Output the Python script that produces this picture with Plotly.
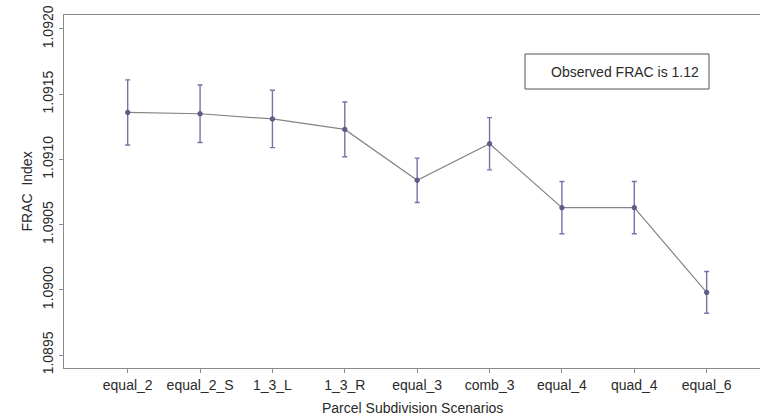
import plotly.graph_objects as go

# Subdivision scenarios and their mean FRAC index with error half-widths
scenarios = ["equal_2", "equal_2_S", "1_3_L", "1_3_R", "equal_3",
             "comb_3", "equal_4", "quad_4", "equal_6"]
frac_mean = [1.09136, 1.09135, 1.09131, 1.09123, 1.09084,
             1.09112, 1.09063, 1.09063, 1.08998]
frac_err = [0.00025, 0.00022, 0.00022, 0.00021, 0.00017,
            0.00020, 0.00020, 0.00020, 0.00016]
y_ticks = [1.0895, 1.0900, 1.0905, 1.0910, 1.0915, 1.0920]
note_text = "Observed FRAC is 1.12"

x_pos = list(range(1, len(scenarios) + 1))

W, H = 760, 418
L, R, T, B = 64, 0, 15, 50
plot_w = W - L - R
plot_h = H - T - B

FONT = "Liberation Sans, Arial, sans-serif"
AXIS_COL = "#8a8a8a"
TEXT_COL = "#2a2a2a"

fig = go.Figure()

fig.add_trace(go.Scatter(
    x=x_pos,
    y=frac_mean,
    mode="lines+markers",
    line=dict(color="#858585", width=1.2),
    marker=dict(size=4.5, color="#5f5f8c",
                line=dict(color="#4e4e7a", width=0.8)),
    error_y=dict(type="data", array=frac_err, visible=True,
                 color="#7474a8", thickness=1.4, width=2.5),
    showlegend=False,
    hoverinfo="x+y",
))

def px_x(px):
    return (px - L) / plot_w

def px_y(py):
    return 1 - (py - T) / plot_h

# Note box in the upper right of the plotting region
fig.add_shape(type="rect", xref="paper", yref="paper",
              x0=px_x(525), x1=px_x(709), y0=px_y(89), y1=px_y(54),
              line=dict(color="#555555", width=1), fillcolor="white")
fig.add_annotation(text=note_text, xref="paper", yref="paper",
                   x=px_x(701), y=px_y(72.5), xanchor="right", yanchor="middle",
                   showarrow=False, font=dict(family=FONT, size=14, color=TEXT_COL))

# Axis titles
fig.add_annotation(text="FRAC\u00a0\u00a0Index", xref="paper", yref="paper",
                   x=px_x(26), y=0.5, textangle=-90,
                   xanchor="center", yanchor="middle", showarrow=False,
                   font=dict(family=FONT, size=14, color=TEXT_COL))
fig.add_annotation(text="Parcel Subdivision Scenarios", xref="paper", yref="paper",
                   x=px_x(412), y=px_y(408), xanchor="center", yanchor="middle",
                   showarrow=False, font=dict(family=FONT, size=14, color=TEXT_COL))

fig.update_layout(
    width=W, height=H,
    margin=dict(l=L, r=R, t=T, b=B, pad=0),
    paper_bgcolor="white",
    plot_bgcolor="white",
    font=dict(family=FONT, size=14, color=TEXT_COL),
    xaxis=dict(
        range=[0.12, 9.737],
        tickmode="array", tickvals=x_pos, ticktext=scenarios,
        ticks="outside", ticklen=4, tickwidth=1, tickcolor=AXIS_COL,
        showline=True, linecolor=AXIS_COL, linewidth=1.2, mirror=True,
        showgrid=False, zeroline=False,
        tickfont=dict(family=FONT, size=14, color=TEXT_COL),
    ),
    yaxis=dict(
        range=[1.0894005, 1.0921072],
        tickmode="array", tickvals=y_ticks,
        ticktext=[f"{v:.4f}" for v in y_ticks],
        ticks="outside", ticklen=4, tickwidth=1, tickcolor=AXIS_COL,
        tickangle=-90,
        showline=True, linecolor=AXIS_COL, linewidth=1.2, mirror=True,
        showgrid=False, zeroline=False,
        tickfont=dict(family=FONT, size=14, color=TEXT_COL),
    ),
)

fig.write_html("out.html")
